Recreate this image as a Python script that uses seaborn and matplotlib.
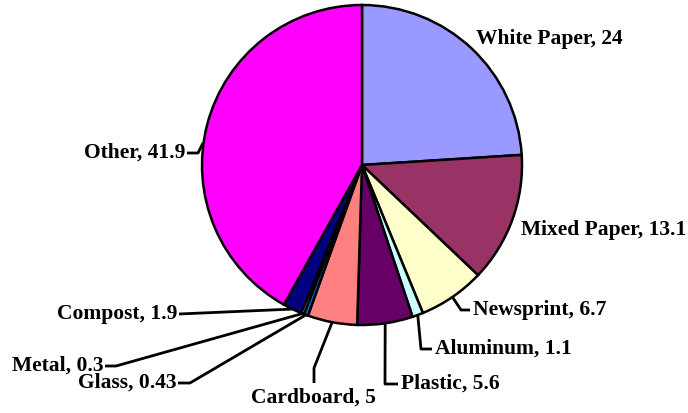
import numpy as np
import matplotlib
matplotlib.use("Agg")
import matplotlib.pyplot as plt
import seaborn as sns

# ------------------------------
# DATA
# ------------------------------
categories = ["White Paper", "Mixed Paper", "Newsprint", "Aluminum", "Plastic",
              "Cardboard", "Glass", "Metal", "Compost", "Other"]
values = [24, 13.1, 6.7, 1.1, 5.6, 5, 0.43, 0.3, 1.9, 41.9]
colors = ["#9999FF", "#993366", "#FFFFCC", "#CCFFFF", "#660066",
          "#FF8080", "#0066CC", "#CCCCFF", "#000080", "#FF00FF"]

# ------------------------------
# STYLE
# ------------------------------
sns.set_style("white")
plt.rcParams["font.family"] = ["Liberation Serif", "DejaVu Serif"]

W, H = 688, 413
fig = plt.figure(figsize=(W / 100, H / 100), dpi=100)
ax = fig.add_axes([0, 0, 1, 1])

# pie centre / radius in pixel units (y up)
cx, cy, r = 362, H - 165, 160

wedges, _ = ax.pie(values, colors=colors, startangle=90, counterclock=False,
                   center=(cx, cy), radius=r,
                   wedgeprops=dict(edgecolor="black", linewidth=1.8))

ax.set_xlim(0, W)
ax.set_ylim(0, H)
ax.set_aspect("equal")
ax.axis("off")


def edge_point(i):
    w = wedges[i]
    mid = np.deg2rad((w.theta1 + w.theta2) / 2)
    return cx + r * np.cos(mid), cy + r * np.sin(mid)


# label layout: (text x, text y in px from top, alignment, leader path in px from top)
layout = {
    "White Paper": (476, 39, "left", None),
    "Mixed Paper": (521, 230, "left", None),
    "Newsprint": (473, 310, "left", [(461, 310), (470, 310)]),
    "Aluminum": (435, 349, "left", [(421, 349), (432, 349)]),
    "Plastic": (401, 384, "left", [(385, 384), (398, 384)]),
    "Cardboard": (313, 398, "center", [(314, 368), (314, 383)]),
    "Glass": (176, 383, "right", [(190, 383), (178, 383)]),
    "Metal": (103, 366, "right", [(116, 366), (105, 366)]),
    "Compost": (177, 314, "right", [(179, 314)]),
    "Other": (185, 153, "right", [(198, 153), (187, 153)]),
}

for i, (cat, val) in enumerate(zip(categories, values)):
    tx, ty, ha, path = layout[cat]
    ax.text(tx, H - ty, f"{cat}, {val:g}", ha=ha, va="center",
            fontsize=15.5, fontweight="bold", color="black")
    if path is not None:
        if cat == "Other":
            start = (203, H - 143)
        else:
            start = edge_point(i)
        xs = [start[0]] + [p[0] for p in path]
        ys = [start[1]] + [H - p[1] for p in path]
        ax.plot(xs, ys, color="black", linewidth=2, solid_capstyle="butt")

fig.savefig("out.png", dpi=100)
